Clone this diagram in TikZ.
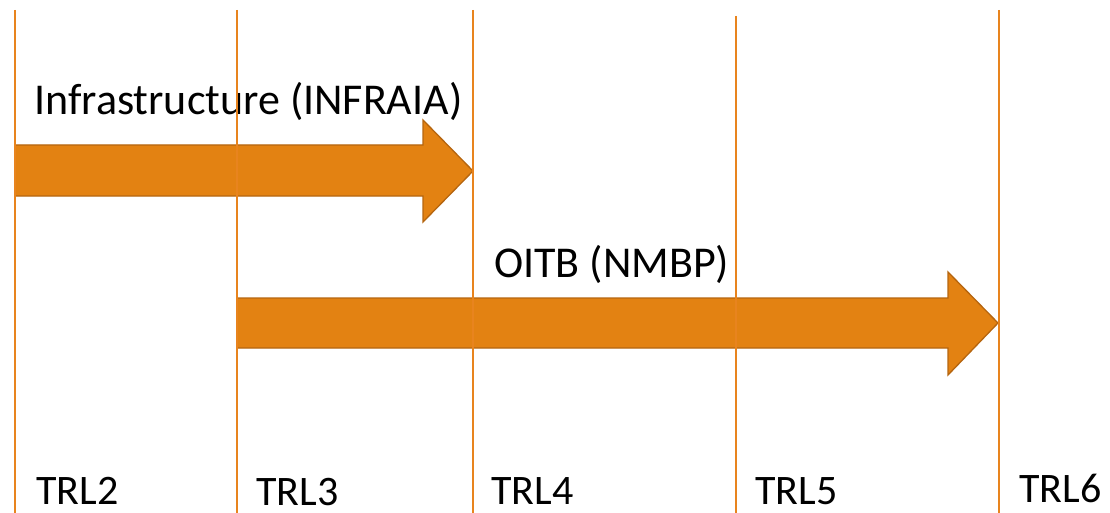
\documentclass[tikz,border=0pt]{standalone}
\usepackage{fontspec}
\setmainfont{Carlito}
\definecolor{vline}{RGB}{232,132,30}
\definecolor{arrfill}{RGB}{227,130,18}
\definecolor{arrdraw}{RGB}{181,101,15}
\begin{document}
\begin{tikzpicture}[x=1pt,y=-1pt,
  gridline/.style={draw=vline,line width=2pt},
  bigarrow/.style={fill=arrfill,draw=arrdraw,line width=1.3pt,line join=miter},
  lbl/.style={anchor=base west,inner sep=0pt,font=\fontsize{44}{48}\selectfont},
  trl/.style={anchor=base west,inner sep=0pt,font=\fontsize{42}{46}\selectfont}]
\useasboundingbox (0,0) rectangle (1110,513);
% arrows
\path[bigarrow] (15,145) -- (423,145) -- (423,120) -- (473,171) -- (423,222) -- (423,196) -- (15,196) -- cycle;
\path[bigarrow] (237,298) -- (948,298) -- (948,272) -- (998,323) -- (948,375) -- (948,348) -- (237,348) -- cycle;
% labels
\node[lbl] (infra) at (34,115) {Infrastructure (INFRAIA)};
\node[lbl] (oitb) at (494,277) {OITB (NMBP)};
% vertical lines
\coordinate (t1) at (15,10);  \coordinate (b1) at (15,513);
\coordinate (t2) at (237,10); \coordinate (b2) at (237,513);
\coordinate (t3) at (473,10); \coordinate (b3) at (473,513);
\coordinate (t4) at (736,16); \coordinate (b4) at (736,513);
\coordinate (t5) at (999,10); \coordinate (b5) at (999,513);
\draw[gridline] (t1) -- (b1);
\draw[gridline] (t2) -- (b2);
\draw[gridline] (t3) -- (b3);
\draw[gridline] (t4) -- (b4);
\draw[gridline] (t5) -- (b5);
% TRL labels
\node[trl] (trl2) at (36,504) {TRL2};
\node[trl] (trl3) at (256,505.5) {TRL3};
\node[trl] (trl4) at (491,504) {TRL4};
\node[trl] (trl5) at (755,504) {TRL5};
\node[trl] (trl6) at (1019,502) {TRL6};
\end{tikzpicture}
\end{document}
